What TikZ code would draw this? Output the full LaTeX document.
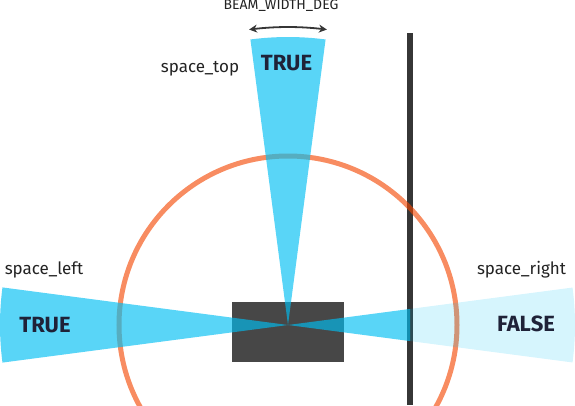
\documentclass[tikz,border=0pt]{standalone}
\usepackage{fontspec}
\setmainfont{Fira Sans}
\usetikzlibrary{arrows.meta,bending}
\definecolor{beamc}{RGB}{0,190,243}
\definecolor{orangec}{RGB}{243,70,0}
\definecolor{rectc}{HTML}{474747}
\definecolor{wallc}{HTML}{363636}
\definecolor{labelc}{HTML}{232323}
\definecolor{valc}{HTML}{1F2238}
\tikzset{
  beamfill/.style={fill=beamc, fill opacity=0.65},
  beamlight/.style={fill=beamc, fill opacity=0.16},
  lbl/.style={text=labelc, font=\fontsize{17}{17}\selectfont, anchor=base, inner sep=0pt},
  val/.style={text=valc, font=\fontsize{22}{22}\selectfont\bfseries, anchor=base, inner sep=0pt},
  small/.style={text=labelc, font=\fontsize{14}{14}\selectfont, anchor=base, inner sep=0pt}
}
\begin{document}
\begin{tikzpicture}[x=1pt,y=1pt]
\useasboundingbox (-288,-80) rectangle (287,325);
% wall
\fill[wallc] (119,-80) rectangle (125,292);
% range circle
\draw[orangec, line width=5pt, draw opacity=0.62] (0,0) circle[radius=169];
% robot body
\fill[rectc] (-56,-37) rectangle (56,23);
% beams
\fill[beamfill] (0,0) -- (82.5:288) arc[start angle=82.5, end angle=97.5, radius=288] -- cycle;
\fill[beamfill] (0,0) -- (172.5:288) arc[start angle=172.5, end angle=187.5, radius=288] -- cycle;
\begin{scope}
  \clip (-1,-100) rectangle (122,100);
  \fill[beamfill] (0,0) -- (-7.5:287) arc[start angle=-7.5, end angle=7.5, radius=287] -- cycle;
\end{scope}
\begin{scope}
  \clip (122,-100) rectangle (300,100);
  \fill[beamlight] (0,0) -- (-7.5:287) arc[start angle=-7.5, end angle=7.5, radius=287] -- cycle;
\end{scope}
% beam width arrow
\draw[wallc, line width=1.8pt, {Stealth[length=8pt,width=8pt,bend]}-{Stealth[length=8pt,width=8pt,bend]}]
  (97.5:298) arc[start angle=97.5, end angle=82.5, radius=298];
% texts
\node[small] (bw) at (-7,315) {BEAM\_WIDTH\_DEG};
\node[lbl] (st) at (-88,252.3) {space\_top};
\node[val] (vt) at (-1.5,254.3) {TRUE};
\node[lbl] (sl) at (-244,51) {space\_left};
\node[val] (vl) at (-243,-7) {TRUE};
\node[lbl] (sr) at (233.5,51) {space\_right};
\node[val] (vr) at (238,-6.7) {FALSE};
\end{tikzpicture}
\end{document}
